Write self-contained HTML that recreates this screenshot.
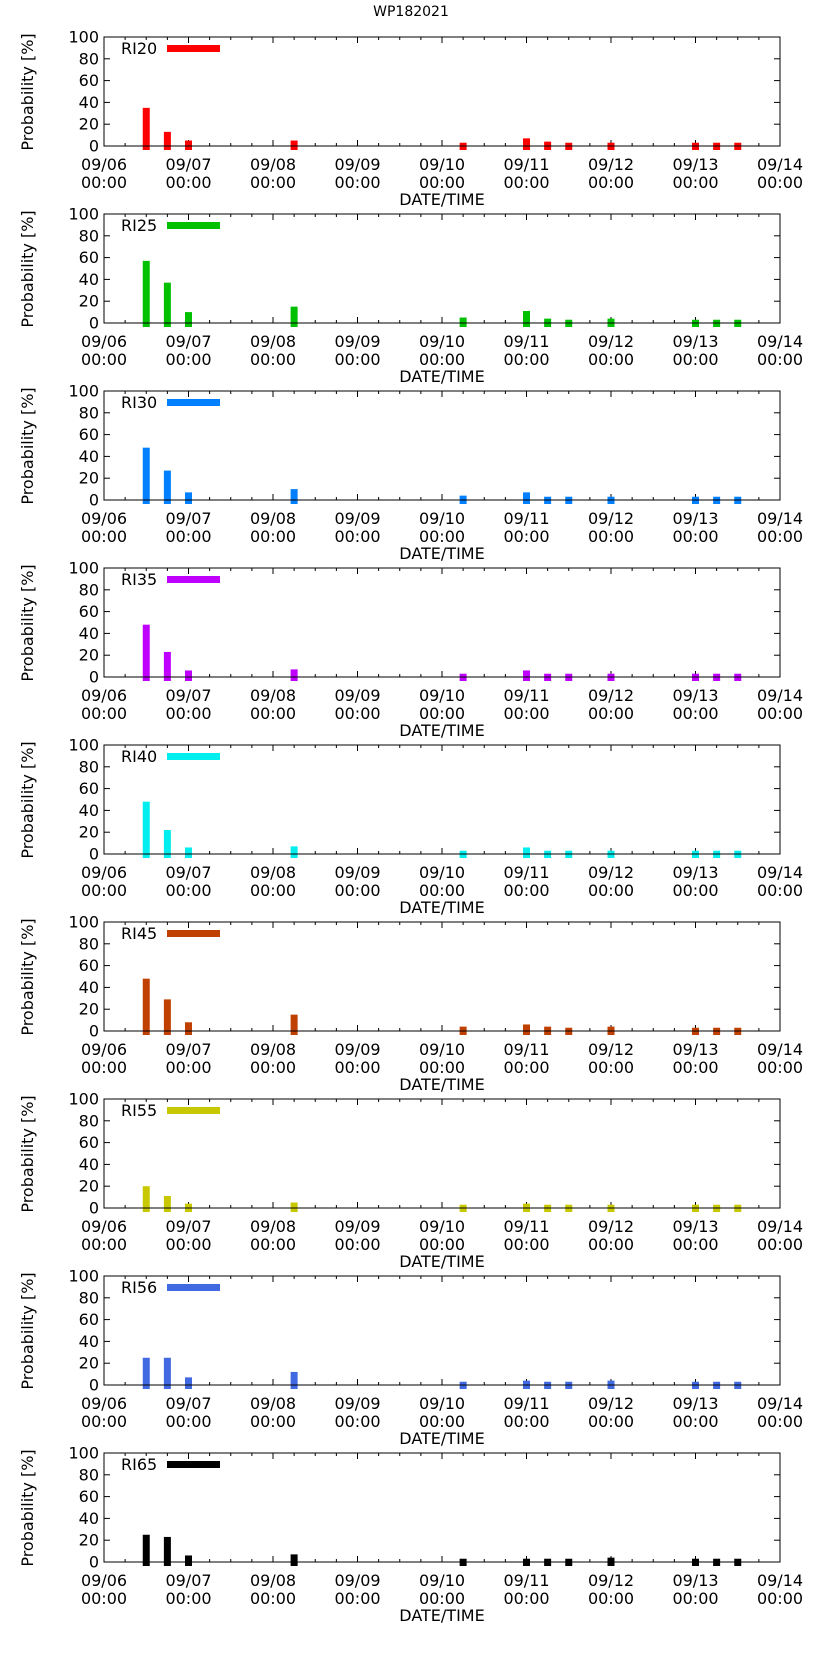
<!DOCTYPE html>
<html><head><meta charset="utf-8"><style>
body{margin:0;background:#fff;}
svg{display:block;font-family:"DejaVu Sans","Liberation Sans",sans-serif;}
</style></head><body>
<svg id="chart" width="822" height="1653" viewBox="0 0 822 1653">
<text x="411" y="16" font-size="14" text-anchor="middle">WP182021</text>
</svg>
<script>
const hours = [12,18,24,54,102,120,126,132,144,168,174,180];
const seriesNames = ["RI20","RI25","RI30","RI35","RI40","RI45","RI55","RI56","RI65"];
const ri20 = [35,13,5,5,3,7,4,3,3,3,3,3];
const ri25 = [57,37,10,15,5,11,4,3,4,3,3,3];
const ri30 = [48,27,7,10,4,7,3,3,3,3,3,3];
const ri35 = [48,23,6,7,3,6,3,3,3,3,3,3];
const ri40 = [48,22,6,7,3,6,3,3,3,3,3,3];
const ri45 = [48,29,8,15,4,6,4,3,4,3,3,3];
const ri55 = [20,11,4,5,3,4,3,3,3,3,3,3];
const ri56 = [25,25,7,12,3,4,3,3,4,3,3,3];
const ri65 = [25,23,6,7,3,3,3,3,4,3,3,3];
const seriesValues = [ri20,ri25,ri30,ri35,ri40,ri45,ri55,ri56,ri65];
const colors = ["#ff0000","#00c000","#0080ff","#c000ff","#00eeee","#c04000","#c8c800","#4169e1","#000000"];
const xTickLabels = ["09/06","09/07","09/08","09/09","09/10","09/11","09/12","09/13","09/14"];
const yTicks = [0,20,40,60,80,100];

const NS="http://www.w3.org/2000/svg";
const svg=document.getElementById('chart');
const L=104,R=780,H=109,GAP=177,TOP0=37;
function xs(h){return L+(h/192)*(R-L);}
function mk(tag,attrs,parent){const e=document.createElementNS(NS,tag);for(const k in attrs)e.setAttribute(k,attrs[k]);(parent||svg).appendChild(e);return e;}

seriesNames.forEach((name,p)=>{
  const top=TOP0+p*GAP, zero=top+H;
  const ys=v=>zero-v/100*H;
  const g=mk('g',{});
  
  
  // ticks
  for(let h=0;h<=192;h+=6){
    const len=(h%24===0)?6:3;const x=xs(h);
    const t1=mk('line',{x1:x,x2:x,y1:zero,y2:zero-len,stroke:'#000','stroke-width':1},g);
    
    
    const t2=mk('line',{x1:x,x2:x,y1:top,y2:top+len,stroke:'#000','stroke-width':1},g);
    
    
  }
  yTicks.forEach(v=>{
    const y=ys(v);
    const a=mk('line',{x1:L,x2:L+6,y1:y,y2:y,stroke:'#000'},g);
    
    
    const b=mk('line',{x1:R,x2:R-6,y1:y,y2:y,stroke:'#000'},g);
    
    
    const t=mk('text',{x:L-5,y:y+5.5,'font-size':16,'text-anchor':'end'},g);
    t.textContent=v;
    
    
  });
  xTickLabels.forEach((lab,i)=>{
    const x=xs(i*24);
    const t=mk('text',{x:x,y:zero+24,'font-size':16,'text-anchor':'middle'},g);
    t.textContent=lab;
    
    
    const t2=mk('text',{x:x,y:zero+42,'font-size':16,'text-anchor':'middle'},g);
    t2.textContent='00:00';
    
    
  });
  const xt=mk('text',{x:442,y:zero+59,'font-size':16,'text-anchor':'middle'},g);
  xt.textContent='DATE/TIME';
  
  
  const yt=mk('text',{x:0,y:0,'font-size':16,'text-anchor':'middle',transform:`translate(33,${top+55}) rotate(-90)`},g);
  yt.textContent='Probability [%]';
  
  
  // bars
  seriesValues[p].forEach((v,i)=>{
    const x=xs(hours[i]);
    const r=mk('rect',{x:x-3.5,y:ys(v),width:7,height:ys(0)-ys(v)+4,fill:colors[p]},g);
    
    
  });
  // frame
  const f=mk('rect',{x:L,y:top,width:R-L,height:H,fill:'none',stroke:'#000','stroke-width':1},g);
  
  
  // legend
  const lt=mk('text',{x:121,y:top+17,'font-size':16},g);
  lt.textContent=name;
  
  
  const ll=mk('rect',{x:167,y:top+8,width:53,height:7,fill:colors[p]},g);
  
  
});
</script>
</body></html>
